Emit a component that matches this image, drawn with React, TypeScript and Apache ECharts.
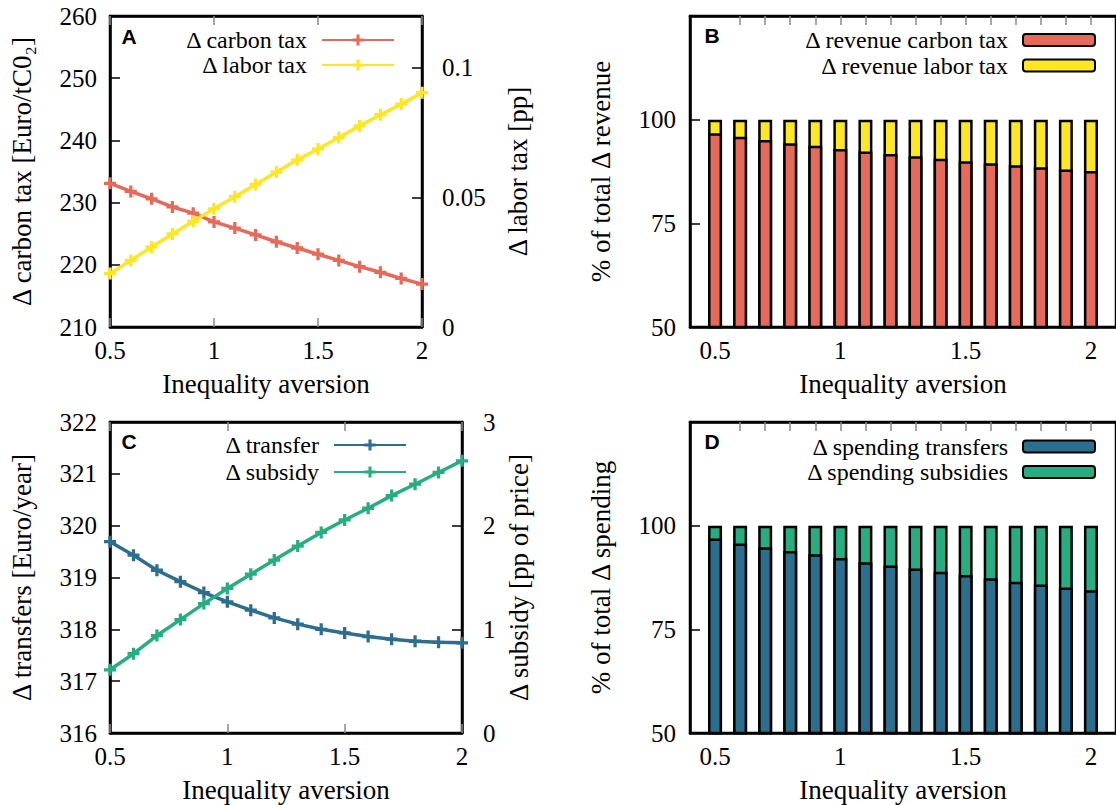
import React, { useEffect, useRef } from "react";
import * as echarts from "echarts";

// Inequality aversion (x values)
const aversion = [0.5, 0.6, 0.7, 0.8, 0.9, 1.0, 1.1, 1.2, 1.3, 1.4, 1.5, 1.6, 1.7, 1.8, 1.9, 2.0];

// Panel A
const carbonTax = [233.1, 231.8, 230.6, 229.3, 228.3, 226.9, 225.9, 224.8, 223.7, 222.7, 221.7, 220.7, 219.7, 218.8, 217.8, 216.9];
const laborTax = [0.0206, 0.0257, 0.0309, 0.0359, 0.0408, 0.0456, 0.0503, 0.055, 0.0598, 0.0645, 0.0687, 0.0731, 0.0776, 0.0819, 0.086, 0.0904];

// Panel B (% of total Δ revenue)
const revenueCarbon = [96.7, 95.9, 95.1, 94.3, 93.7, 92.9, 92.3, 91.7, 91.2, 90.6, 90.0, 89.5, 89.0, 88.5, 88.0, 87.6];
const revenueLabor = [3.3, 4.1, 4.9, 5.7, 6.3, 7.1, 7.7, 8.3, 8.8, 9.4, 10.0, 10.5, 11.0, 11.5, 12.0, 12.4];

// Panel C
const transfer = [319.69, 319.43, 319.14, 318.92, 318.71, 318.53, 318.37, 318.22, 318.1, 318.0, 317.93, 317.86, 317.81, 317.77, 317.75, 317.74];
const subsidy = [0.61, 0.765, 0.94, 1.094, 1.248, 1.394, 1.532, 1.668, 1.803, 1.935, 2.055, 2.168, 2.29, 2.4, 2.513, 2.626];

// Panel D (% of total Δ spending)
const spendTransfers = [96.9, 95.7, 94.8, 93.9, 93.1, 92.2, 91.2, 90.4, 89.7, 88.9, 88.1, 87.3, 86.5, 85.8, 85.1, 84.4];
const spendSubsidies = [3.1, 4.3, 5.2, 6.1, 6.9, 7.8, 8.8, 9.6, 10.3, 11.1, 11.9, 12.7, 13.5, 14.2, 14.9, 15.6];

// Tick labels
const lineXTicks = [0.5, 1, 1.5, 2];
const barTopTicks = [0.6, 0.7, 0.8, 0.9, 1.0, 1.1, 1.2, 1.3, 1.4, 1.5, 1.6, 1.7, 1.8, 1.9, 2.0];

const RED = "#e6695a";
const YELLOW = "#fde725";
const BLUE = "#2c6e8e";
const GREEN = "#27ad81";
const PLUS = "path://M4,0H7V4H11V7H7V11H4V7H0V4H4Z";

const pairs = (ys: number[]) => aversion.map((x, i) => [x, ys[i]]);
// upper segment of a stacked bar: top = lower share + upper share
const stackedTop = (lower: number[], upper: number[]) => aversion.map((x, i) => [x, lower[i] + upper[i]]);

function bottomX(grid: number, min: number, max: number, custom: boolean, name: string) {
  const label: any = {
    fontFamily: "Liberation Serif",
    fontSize: 25,
    color: "#000",
    margin: 11,
  };
  if (custom) label.customValues = lineXTicks;
  return {
    type: "value",
    gridIndex: grid,
    position: "bottom",
    min,
    max,
    interval: custom ? undefined : 0.5,
    name,
    nameLocation: "middle",
    nameGap: 43,
    nameTextStyle: { fontFamily: "Liberation Serif", fontSize: 27, color: "#000" },
    axisLine: { show: true, lineStyle: { color: "#000", width: 2.5 } },
    axisTick: custom
      ? { show: false }
      : { show: true, inside: true, length: 9, lineStyle: { color: "#8a8a8a", width: 1.5 } },
    axisLabel: label,
    splitLine: { show: false },
    z: 5,
  };
}

function topX(grid: number, min: number, max: number, custom: boolean) {
  const tick: any = { show: true, inside: true, length: 9, lineStyle: { color: "#8a8a8a", width: 1.5 } };
  if (custom) tick.customValues = barTopTicks;
  return {
    type: "value",
    gridIndex: grid,
    position: "top",
    min,
    max,
    interval: custom ? undefined : 0.5,
    axisLine: { show: true, lineStyle: { color: "#000", width: 2.5 } },
    axisTick: tick,
    axisLabel: { show: false },
    splitLine: { show: false },
  };
}

function yAx(grid: number, pos: string, min: number, max: number, interval: number, name: string, nameGap: number, margin: number, hideAbove?: number) {
  const label: any = { fontFamily: "Liberation Serif", fontSize: 25, color: "#000", margin };
  if (hideAbove !== undefined) label.formatter = (v: number) => (v > hideAbove ? "" : String(v));
  return {
    type: "value",
    gridIndex: grid,
    position: pos,
    min,
    max,
    interval,
    name,
    nameLocation: "middle",
    nameGap,
    nameTextStyle: { fontFamily: "Liberation Serif", fontSize: 27, color: "#000" },
    axisLine: { show: true, lineStyle: { color: "#000", width: 2.5 } },
    axisTick: { show: true, inside: true, length: 10, lineStyle: { color: "#000", width: 1.5 } },
    axisLabel: label,
    splitLine: { show: false },
  };
}

function lineSeries(name: string, xi: number, yi: number, ys: number[], color: string) {
  return {
    type: "line",
    name,
    xAxisIndex: xi,
    yAxisIndex: yi,
    data: pairs(ys),
    symbol: PLUS,
    symbolSize: 12,
    showAllSymbol: true,
    lineStyle: { color, width: 3.5 },
    itemStyle: { color },
    z: 3,
  };
}

function barSeries(name: string, xi: number, yi: number, data: number[][], color: string, z: number) {
  return {
    type: "bar",
    name,
    xAxisIndex: xi,
    yAxisIndex: yi,
    data,
    barWidth: 14,
    barGap: "-100%",
    itemStyle: { color, borderColor: "#000", borderWidth: 2.5 },
    clip: true,
    z,
  };
}

function legendItem(name: string, right: number, centerY: number, isBar: boolean) {
  return {
    data: [name],
    orient: "vertical",
    align: "right",
    right,
    top: centerY - 11,
    padding: 0,
    itemWidth: 72,
    itemHeight: isBar ? 12 : 14,
    selectedMode: false,
    textStyle: { fontFamily: "Liberation Serif", fontSize: 24, color: "#000", lineHeight: 22, padding: [0, 10, 0, 0] },
  };
}

function panelLabel(text: string, x: number, y: number) {
  return {
    type: "text",
    x,
    y,
    style: {
      text,
      fontFamily: "Liberation Sans",
      fontWeight: "bold",
      fontSize: 21,
      fill: "#000",
      align: "center",
      verticalAlign: "middle",
    },
    z: 10,
  };
}

export default function App() {
  const ref = useRef<HTMLDivElement>(null);
  useEffect(() => {
    document.body.style.margin = "0";
    if (!ref.current) return;
    const chart = echarts.init(ref.current, undefined, { renderer: "svg" });
    const gridBase = () => ({ show: true, borderColor: "#000", borderWidth: 2.5 });
    const option = {
      animation: false,
      textStyle: { fontFamily: "Liberation Serif", color: "#000" },
      grid: [
        { ...gridBase(), left: 110, top: 16, width: 312, height: 311 },
        { ...gridBase(), left: 690, top: 16, width: 428, height: 311 },
        { ...gridBase(), left: 110, top: 422, width: 352, height: 311 },
        { ...gridBase(), left: 690, top: 422, width: 428, height: 311 },
      ],
      xAxis: [
        bottomX(0, 0.5, 2, false, "Inequality aversion"),
        topX(0, 0.5, 2, false),
        bottomX(1, 0.4, 2.1, true, "Inequality aversion"),
        topX(1, 0.4, 2.1, true),
        bottomX(2, 0.5, 2, false, "Inequality aversion"),
        topX(2, 0.5, 2, false),
        bottomX(3, 0.4, 2.1, true, "Inequality aversion"),
        topX(3, 0.4, 2.1, true),
      ],
      yAxis: [
        yAx(0, "left", 210, 260, 10, "Δ carbon tax [Euro/tC0₂]", 75, 13),
        yAx(0, "right", 0, 0.12, 0.05, "Δ labor tax [pp]", 82, 20, 0.11),
        yAx(1, "left", 50, 125, 25, "% of total Δ revenue", 76, 14, 110),
        yAx(2, "left", 316, 322, 1, "Δ transfers [Euro/year]", 75, 13),
        yAx(2, "right", 0, 3, 1, "Δ subsidy [pp of price]", 43, 21),
        yAx(3, "left", 50, 125, 25, "% of total Δ spending", 76, 14, 110),
      ],
      legend: [
        legendItem("Δ carbon tax", 1116 - 395, 39, false),
        legendItem("Δ labor tax", 1116 - 395, 64, false),
        legendItem("Δ revenue carbon tax", 1116 - 1096, 39, true),
        legendItem("Δ revenue labor tax", 1116 - 1096, 64.5, true),
        legendItem("Δ transfer", 1116 - 407, 444, false),
        legendItem("Δ subsidy", 1116 - 407, 471, false),
        legendItem("Δ spending transfers", 1116 - 1096, 445.5, true),
        legendItem("Δ spending subsidies", 1116 - 1096, 471, true),
      ],
      series: [
        lineSeries("Δ carbon tax", 0, 0, carbonTax, RED),
        lineSeries("Δ labor tax", 0, 1, laborTax, YELLOW),
        barSeries("Δ revenue carbon tax", 2, 2, pairs(revenueCarbon), RED, 3),
        barSeries("Δ revenue labor tax", 2, 2, stackedTop(revenueCarbon, revenueLabor), YELLOW, 2),
        lineSeries("Δ transfer", 4, 3, transfer, BLUE),
        lineSeries("Δ subsidy", 4, 4, subsidy, GREEN),
        barSeries("Δ spending transfers", 6, 5, pairs(spendTransfers), BLUE, 3),
        barSeries("Δ spending subsidies", 6, 5, stackedTop(spendTransfers, spendSubsidies), GREEN, 2),
      ],
      graphic: [
        panelLabel("A", 129, 36),
        panelLabel("B", 712, 35),
        panelLabel("C", 129, 441),
        panelLabel("D", 712, 441),
      ],
    };
    chart.setOption(option as any);
    return () => chart.dispose();
  }, []);
  return <div ref={ref} style={{ width: 1116, height: 805, background: "#fff" }} />;
}
